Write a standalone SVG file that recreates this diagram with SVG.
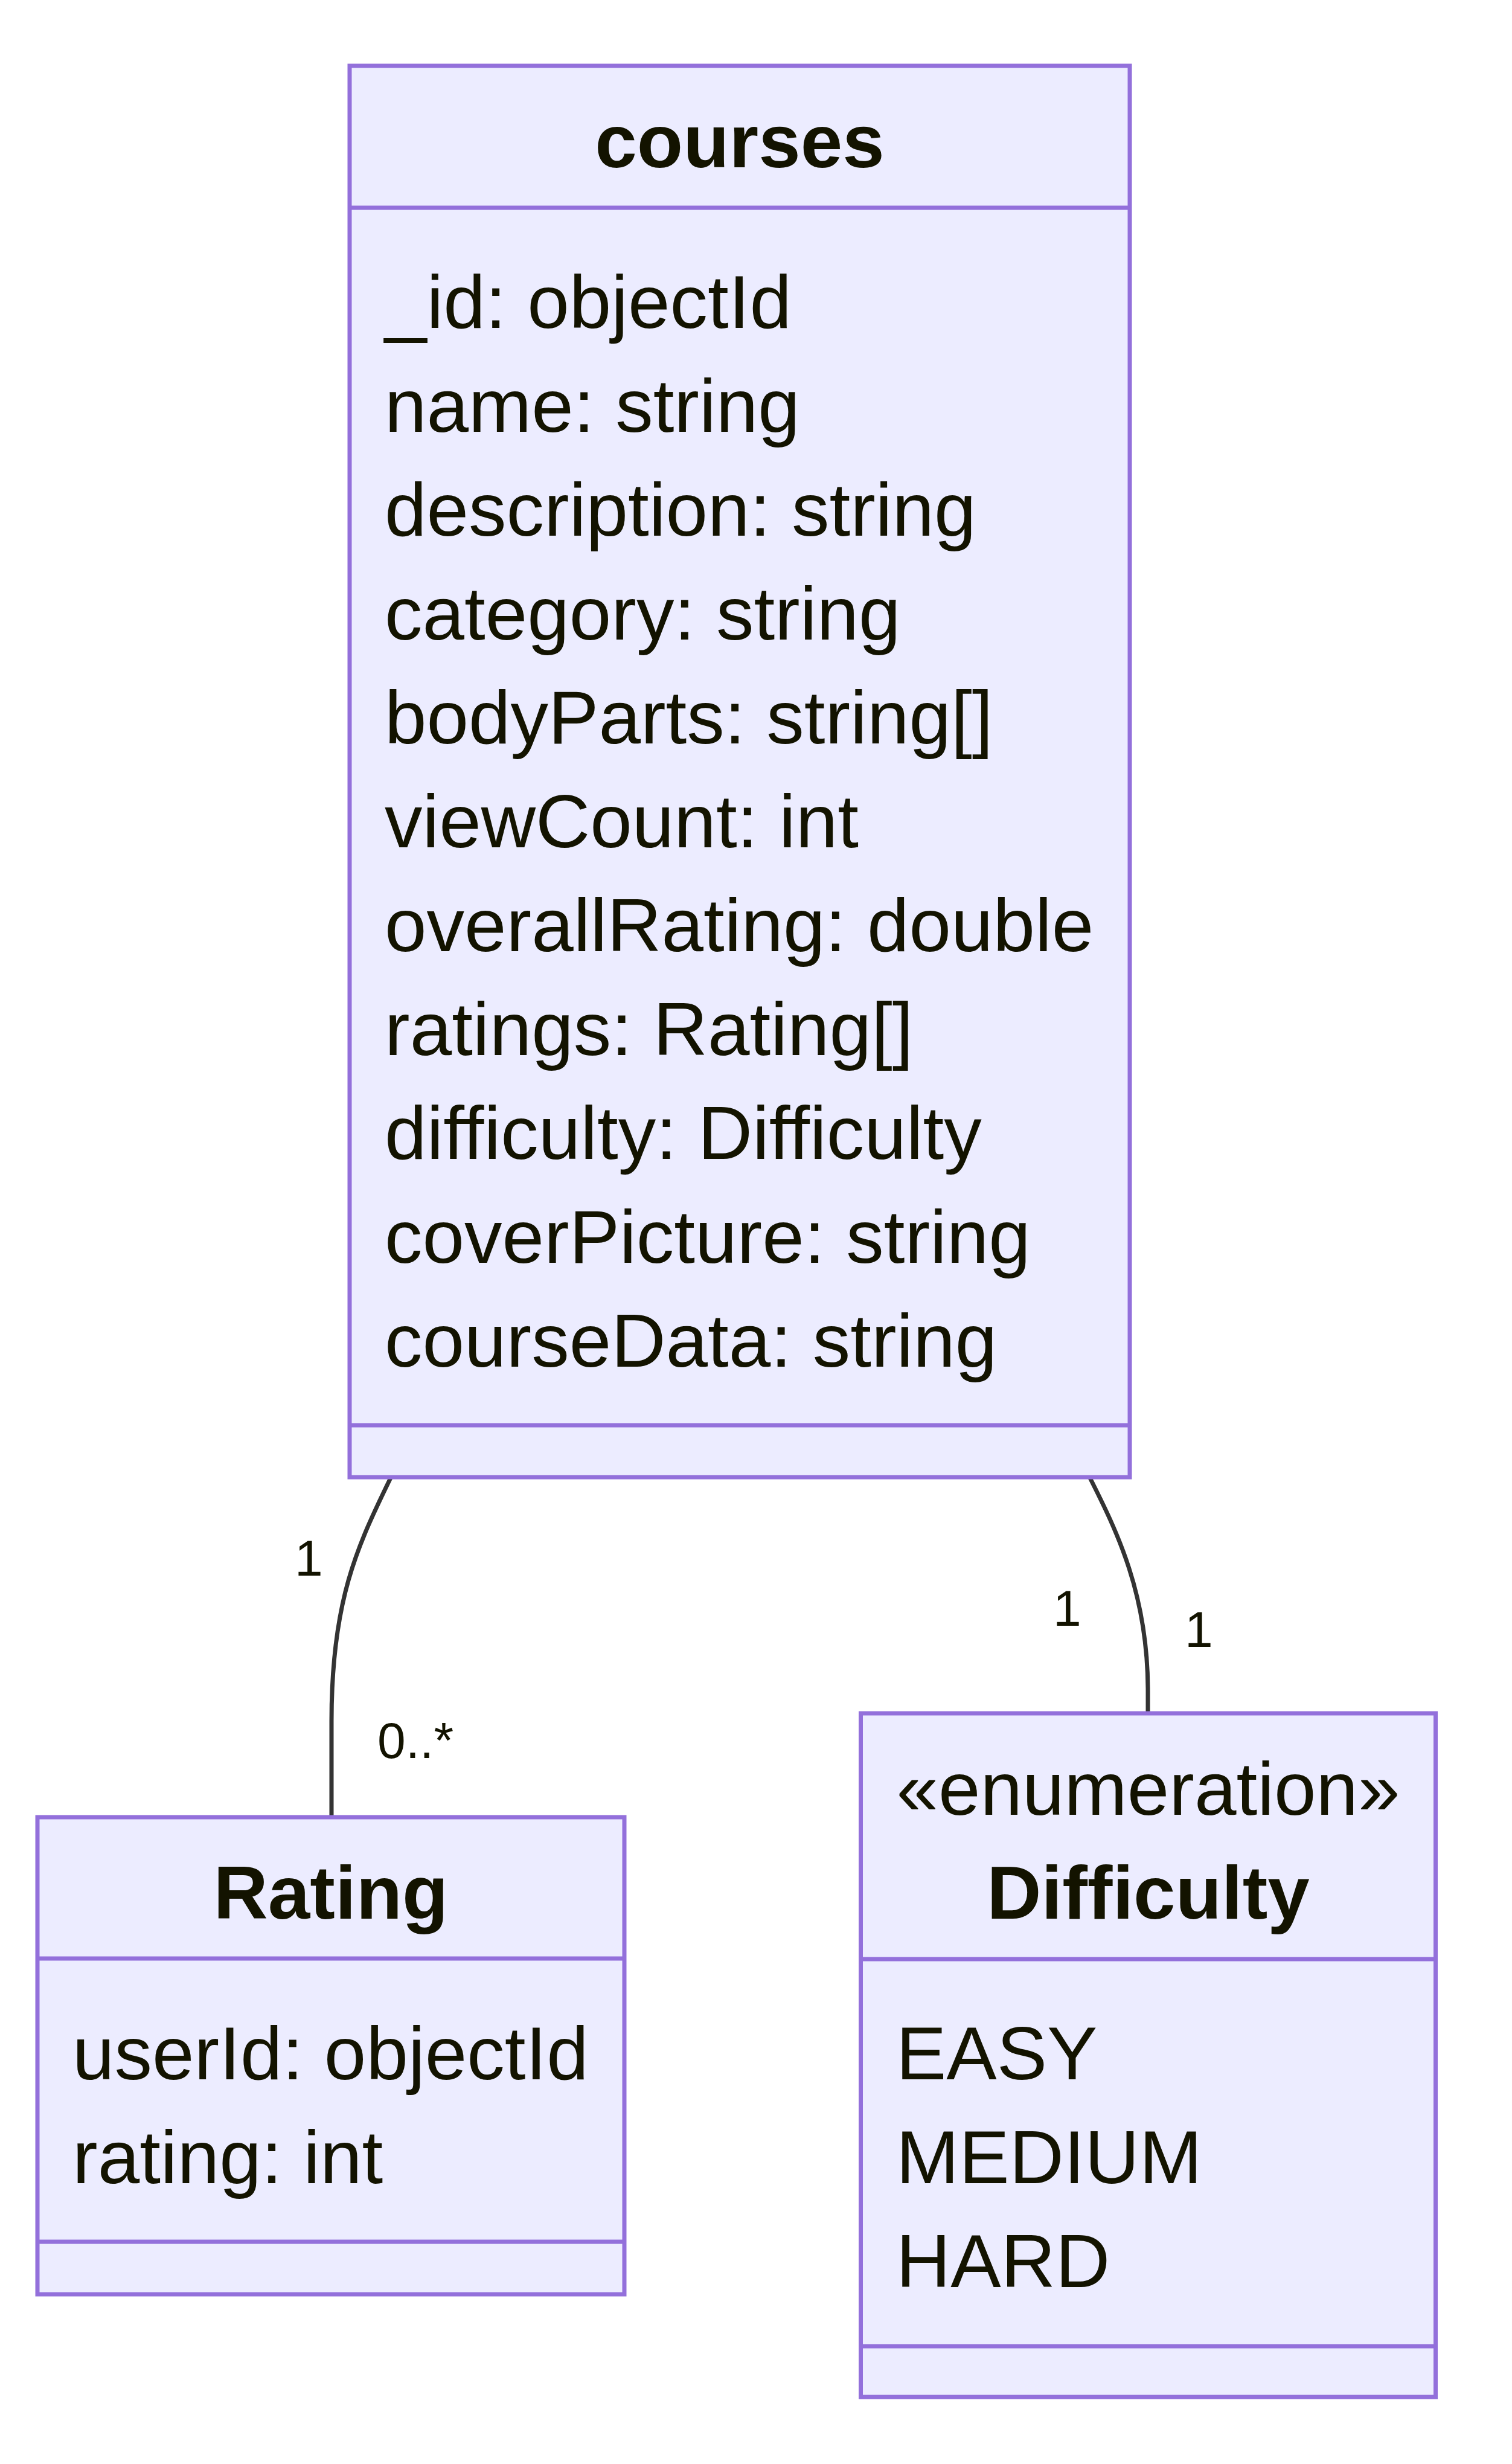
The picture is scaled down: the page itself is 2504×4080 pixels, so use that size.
<svg xmlns="http://www.w3.org/2000/svg" width="2504" height="4080" viewBox="0 0 2504 4080">
<style>
.box{fill:#ECECFF;stroke:#9370DB;stroke-width:7}
.div{stroke:#9370DB;stroke-width:7}
.t{font-family:"Liberation Sans",Arial,Helvetica,sans-serif;font-size:125px;fill:#131300}
.b{font-weight:bold;text-anchor:middle}
.c{text-anchor:middle}
.rel{fill:none;stroke:#333333;stroke-width:7}
.lbl{font-family:"Liberation Sans",Arial,Helvetica,sans-serif;font-size:84px;fill:#131300}
</style>
<rect width="2504" height="4080" fill="#ffffff"/>
<g id="connectors">
<path class="rel" d="M647 2447 C591.5 2561 549 2650 549 2850 L549 3009"/>
<path class="rel" d="M1805 2447 C1849.8 2535.8 1901 2640 1901 2800 L1901 2837"/>
<text class="lbl" x="488" y="2609">1</text>
<text class="lbl" x="625" y="2911">0..*</text>
<text class="lbl" x="1744" y="2692">1</text>
<text class="lbl" x="1962" y="2727">1</text>
</g>
<g id="courses">
<rect class="box" x="579" y="109" width="1292" height="2337"/>
<line class="div" x1="579" y1="344" x2="1871" y2="344"/>
<line class="div" x1="579" y1="2360" x2="1871" y2="2360"/>
<text class="t b" x="1225" y="277">courses</text>
<text class="t" x="637" y="543">_id: objectId</text>
<text class="t" x="637" y="715">name: string</text>
<text class="t" x="637" y="887">description: string</text>
<text class="t" x="637" y="1059">category: string</text>
<text class="t" x="637" y="1231">bodyParts: string[]</text>
<text class="t" x="637" y="1403">viewCount: int</text>
<text class="t" x="637" y="1575">overallRating: double</text>
<text class="t" x="637" y="1747">ratings: Rating[]</text>
<text class="t" x="637" y="1919">difficulty: Difficulty</text>
<text class="t" x="637" y="2091">coverPicture: string</text>
<text class="t" x="637" y="2263">courseData: string</text>
</g>
<g id="Rating">
<rect class="box" x="62" y="3009" width="972" height="790"/>
<line class="div" x1="62" y1="3243" x2="1034" y2="3243"/>
<line class="div" x1="62" y1="3712" x2="1034" y2="3712"/>
<text class="t b" x="548" y="3177">Rating</text>
<text class="t" x="120" y="3443">userId: objectId</text>
<text class="t" x="120" y="3615">rating: int</text>
</g>
<g id="Difficulty">
<rect class="box" x="1425.5" y="2837" width="952" height="1132"/>
<line class="div" x1="1425.5" y1="3244" x2="2377.5" y2="3244"/>
<line class="div" x1="1425.5" y1="3885" x2="2377.5" y2="3885"/>
<text class="t c" x="1901.5" y="3005">«enumeration»</text>
<text class="t b" x="1901.5" y="3177">Difficulty</text>
<text class="t" x="1484" y="3443">EASY</text>
<text class="t" x="1484" y="3615">MEDIUM</text>
<text class="t" x="1484" y="3787">HARD</text>
</g>
</svg>
